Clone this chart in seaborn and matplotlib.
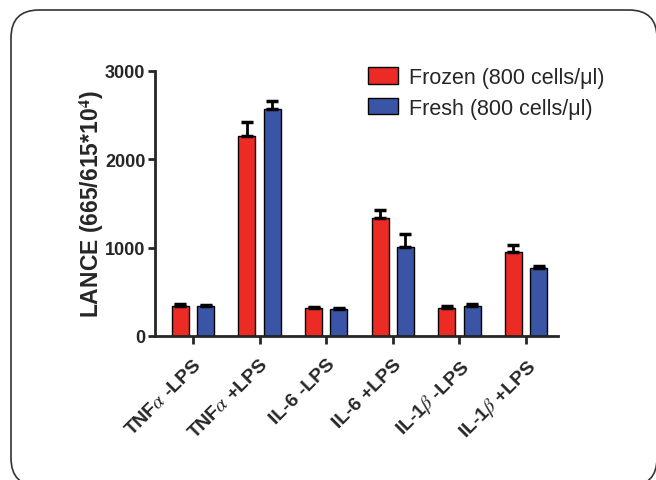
import pandas as pd
import matplotlib
matplotlib.use('Agg')
import matplotlib.pyplot as plt
from matplotlib.patches import FancyBboxPatch
from matplotlib.transforms import IdentityTransform
import seaborn as sns

categories = ['TNF$\\alpha$ -LPS', 'TNF$\\alpha$ +LPS', 'IL-6 -LPS', 'IL-6 +LPS',
              'IL-1$\\beta$ -LPS', 'IL-1$\\beta$ +LPS']
groups = ['Frozen (800 cells/μl)', 'Fresh (800 cells/μl)']
frozen = [339, 2256, 313, 1333, 320, 953]
frozen_err = [25, 160, 15, 95, 20, 72]
fresh = [335, 2565, 305, 1006, 342, 768]
fresh_err = [20, 90, 15, 150, 16, 23]
colors = ['#EC2B25', '#3A55A6']

df = pd.DataFrame({
    'cond': categories * 2,
    'group': [groups[0]] * 6 + [groups[1]] * 6,
    'val': frozen + fresh,
})

sns.set_style('ticks')
plt.rcParams['font.family'] = ['Liberation Sans', 'DejaVu Sans']
plt.rcParams['mathtext.fontset'] = 'stix'

fig = plt.figure(figsize=(6.56, 4.81), dpi=100)
ax = fig.add_axes([155 / 656, 1 - 337 / 481, (558 - 155) / 656, (337 - 71.7) / 481])

sns.barplot(data=df, x='cond', y='val', hue='group', palette=colors, saturation=1,
            width=0.76, gap=0.33, errorbar=None, edgecolor='black',
            linewidth=1, ax=ax)

# one-sided error bars (upper only)
for cont, errs in zip(ax.containers, [frozen_err, fresh_err]):
    xs = [b.get_x() + b.get_width() / 2 for b in cont]
    ys = [b.get_height() for b in cont]
    ax.errorbar(xs, ys, yerr=[[0] * len(errs), errs], fmt='none',
                ecolor='black', elinewidth=2, capsize=4.5, capthick=2.5, zorder=1)

ax.set_ylim(0, 3000)
ax.set_xlim(-0.57, 5.48)
ax.set_yticks([0, 1000, 2000, 3000])
sns.despine(ax=ax)
for s in ['left', 'bottom']:
    ax.spines[s].set_linewidth(2)
ax.tick_params(axis='y', width=2, length=5, labelsize=13, pad=2)
ax.tick_params(axis='x', width=2, length=6, pad=8)
for t in ax.get_yticklabels():
    t.set_fontweight('bold')
ax.set_xticks(range(len(categories)))
ax.set_xticklabels(categories, rotation=45, ha='right', rotation_mode='anchor',
                   fontweight='bold', fontsize=14)
ax.set_xlabel('')
ax.set_ylabel('LANCE (665/615*10$^\\mathbf{4}$)', fontsize=16.5, fontweight='bold', labelpad=-1)

ax.legend(loc='upper left', bbox_to_anchor=(368 / 656, 1 - 68 / 481),
          bbox_transform=fig.transFigure, frameon=False, borderpad=0,
          borderaxespad=0, fontsize=15.5, handlelength=1.4, handleheight=0.8,
          handletextpad=0.5, labelspacing=0.45)

frame = FancyBboxPatch((11, -6), 646, 476, boxstyle='round,pad=0,rounding_size=28',
                       transform=IdentityTransform(), fill=False,
                       edgecolor='#333333', linewidth=1.2)
fig.add_artist(frame)

plt.savefig('out.png', dpi=100)
